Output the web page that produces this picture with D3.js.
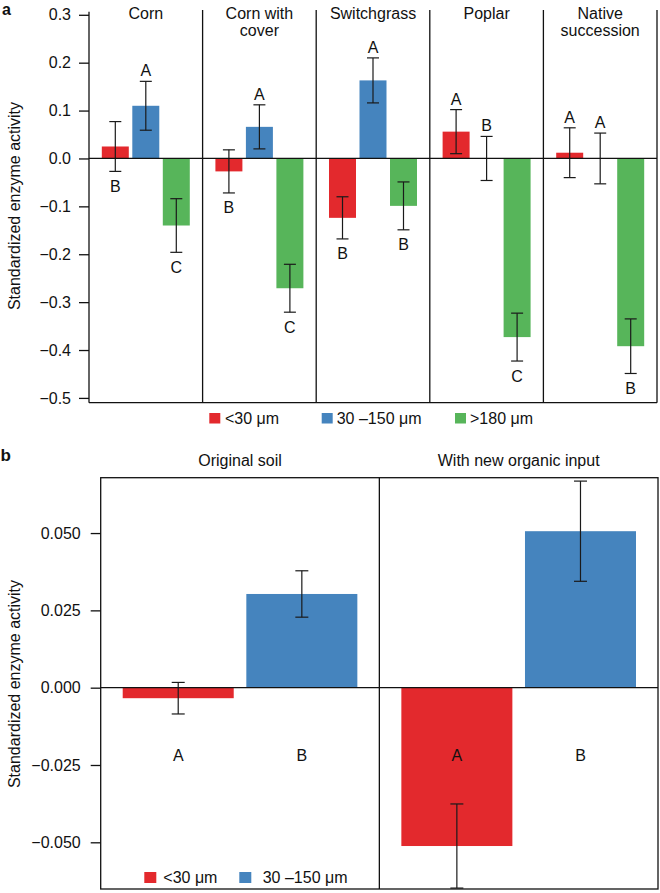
<!DOCTYPE html>
<html>
<head>
<meta charset="utf-8">
<script src="https://cdn.jsdelivr.net/npm/d3@7"></script>
<style>
  html, body { margin: 0; padding: 0; background: #fff; }
  svg { display: block; font-family: "Liberation Sans", Arial, Helvetica, sans-serif; }
</style>
</head>
<body>
<svg id="chart" width="660" height="893"></svg>
<script>
// ---------- DATA: panel a ----------
const treatments = ["Corn", "Corn with cover", "Switchgrass", "Poplar", "Native succession"];
const treatmentLines = [["Corn"], ["Corn with", "cover"], ["Switchgrass"], ["Poplar"], ["Native", "succession"]];
const sizeClassesA = ["<30 μm", "30 –150 μm", ">180 μm"];
const meanSmall = [0.025, -0.027, -0.124, 0.056, 0.012];
const meanMid   = [0.110, 0.066, 0.163, 0.000, 0.000];
const meanLarge = [-0.140, -0.271, -0.099, -0.373, -0.392];
const seSmall = [0.052, 0.045, 0.044, 0.046, 0.052];
const seMid   = [0.051, 0.046, 0.047, 0.046, 0.053];
const seLarge = [0.056, 0.050, 0.050, 0.050, 0.057];
const lettersSmall = ["B", "B", "B", "A", "A"];
const lettersMid   = ["A", "A", "A", "B", "A"];
const lettersLarge = ["C", "C", "B", "C", "B"];
const letterSideSmall = ["below", "below", "below", "above", "above"];
const letterSideMid   = ["above", "above", "above", "above", "above"];
const letterSideLarge = ["below", "below", "below", "below", "below"];
const yTicksA = [0.3, 0.2, 0.1, 0.0, -0.1, -0.2, -0.3, -0.4, -0.5];

// ---------- DATA: panel b ----------
const conditions = ["Original soil", "With new organic input"];
const sizeClassesB = ["<30 μm", "30 –150 μm"];
const meanSmallB = [-0.0034, -0.0512];
const meanMidB   = [0.0303, 0.0506];
const seSmallB = [0.0051, 0.0136];
const seMidB   = [0.0075, 0.0162];
const lettersSmallB = ["A", "A"];
const lettersMidB   = ["B", "B"];
const yTicksB = [0.050, 0.025, 0.000, -0.025, -0.050];

const colors = ["#e3292d", "#4584be", "#57b55a"];
const FS = 16;

const svg = d3.select("#chart");

// ================= PANEL A =================
const aTop = 10, aBottom = 402.7, aLeft = 89, aRight = 657;
const xA = d3.scaleBand().domain(treatments).range([aLeft, aRight]).padding(0);
const xAin = d3.scaleBand().domain(sizeClassesA).range([0, xA.bandwidth()])
  .paddingInner(0.115).paddingOuter(0.42);
const yA = d3.scaleLinear().domain([-0.51, 0.31]).range([aBottom, aTop]);

const seriesA = [
  { mean: meanSmall, se: seSmall, letters: lettersSmall, side: letterSideSmall },
  { mean: meanMid, se: seMid, letters: lettersMid, side: letterSideMid },
  { mean: meanLarge, se: seLarge, letters: lettersLarge, side: letterSideLarge }
];
const recordsA = [];
treatments.forEach((t, i) => {
  seriesA.forEach((s, j) => {
    recordsA.push({ t, cls: sizeClassesA[j], j, v: s.mean[i], se: s.se[i], letter: s.letters[i], side: s.side[i] });
  });
});

const gA = svg.append("g");

// bars
gA.selectAll("rect.bar").data(recordsA).join("rect")
  .attr("class", "bar")
  .attr("x", d => xA(d.t) + xAin(d.cls))
  .attr("width", xAin.bandwidth())
  .attr("y", d => yA(Math.max(0, d.v)))
  .attr("height", d => Math.abs(yA(d.v) - yA(0)))
  .attr("fill", d => colors[d.j]);

// error bars
const errA = gA.selectAll("g.err").data(recordsA).join("g").attr("class", "err")
  .attr("stroke", "#1a1a1a").attr("stroke-width", 1.2);
errA.append("line")
  .attr("x1", d => xA(d.t) + xAin(d.cls) + xAin.bandwidth() / 2)
  .attr("x2", d => xA(d.t) + xAin(d.cls) + xAin.bandwidth() / 2)
  .attr("y1", d => yA(d.v + d.se)).attr("y2", d => yA(d.v - d.se));
[1, -1].forEach(sgn => {
  errA.append("line")
    .attr("x1", d => xA(d.t) + xAin(d.cls) + xAin.bandwidth() / 2 - 6)
    .attr("x2", d => xA(d.t) + xAin(d.cls) + xAin.bandwidth() / 2 + 6)
    .attr("y1", d => yA(d.v + sgn * d.se)).attr("y2", d => yA(d.v + sgn * d.se));
});

// letters
gA.selectAll("text.letter").data(recordsA).join("text")
  .attr("class", "letter")
  .attr("x", d => xA(d.t) + xAin(d.cls) + xAin.bandwidth() / 2)
  .attr("y", d => d.side === "above" ? yA(d.v + d.se) - 5 : yA(d.v - d.se) + 20.5)
  .attr("text-anchor", "middle").attr("font-size", FS).attr("fill", "#111")
  .text(d => d.letter);

// zero line, frame lines
gA.append("line").attr("x1", aLeft).attr("x2", aRight).attr("y1", yA(0)).attr("y2", yA(0))
  .attr("stroke", "#111").attr("stroke-width", 1.3);
gA.append("line").attr("x1", aLeft).attr("x2", aRight).attr("y1", aBottom).attr("y2", aBottom)
  .attr("stroke", "#111").attr("stroke-width", 1.3);
treatments.slice(1).concat([null]).forEach((t) => {
  const x = t === null ? aRight : xA(t);
  gA.append("line").attr("x1", x).attr("x2", x).attr("y1", aTop).attr("y2", aBottom)
    .attr("stroke", "#111").attr("stroke-width", 1.3);
});

// axis
const axA = gA.append("g").attr("transform", `translate(${aLeft},0)`)
  .call(d3.axisLeft(yA).tickValues(yTicksA).tickFormat(d3.format(".1f"))
    .tickSize(10).tickSizeOuter(0).tickPadding(8));
axA.select(".domain").attr("stroke", "#111").attr("stroke-width", 1.3).attr("d", `M0,${aBottom}V${aTop + 1.7}`);
axA.selectAll(".tick line").attr("stroke", "#111").attr("stroke-width", 1.3);
axA.selectAll(".tick text").attr("font-size", FS).attr("fill", "#111")
  .attr("font-family", "Liberation Sans, Arial, sans-serif");

// panel titles
treatments.forEach((t, i) => {
  const tx = gA.append("text").attr("x", xA(t) + xA.bandwidth() / 2).attr("y", 19)
    .attr("text-anchor", "middle").attr("font-size", FS).attr("fill", "#111");
  treatmentLines[i].forEach((ln, k) => {
    tx.append("tspan").attr("x", xA(t) + xA.bandwidth() / 2).attr("dy", k === 0 ? 0 : 17).text(ln);
  });
});

// y label
gA.append("text").attr("transform", "translate(19.5,206) rotate(-90)")
  .attr("text-anchor", "middle").attr("font-size", FS).attr("fill", "#111")
  .text("Standardized enzyme activity");

// panel letter
svg.append("text").attr("x", 2).attr("y", 14.5).attr("font-size", 16).attr("font-weight", "bold")
  .attr("fill", "#111").text("a");

// legend a
const legAsq = [209.3, 321.7, 455];
const legAtx = [225, 336.7, 470];
sizeClassesA.forEach((c, j) => {
  svg.append("rect").attr("x", legAsq[j]).attr("y", 413).attr("width", 11).attr("height", 10.5)
    .attr("fill", colors[j]);
  svg.append("text").attr("x", legAtx[j]).attr("y", 424).attr("font-size", FS).attr("fill", "#111").text(c);
});

// ================= PANEL B =================
const bTop = 477.7, bBottom = 889, bLeft = 100.7, bRight = 658;
const xB = d3.scaleBand().domain(conditions).range([bLeft, bRight]).padding(0);
const xBin = d3.scaleBand().domain(sizeClassesB).range([0, xB.bandwidth()])
  .paddingInner(0.102).paddingOuter(0.178);
const yB = d3.scaleLinear().domain([-0.0651, 0.0679]).range([bBottom, bTop]);

const seriesB = [
  { mean: meanSmallB, se: seSmallB, letters: lettersSmallB },
  { mean: meanMidB, se: seMidB, letters: lettersMidB }
];
const recordsB = [];
conditions.forEach((t, i) => {
  seriesB.forEach((s, j) => {
    recordsB.push({ t, cls: sizeClassesB[j], j, v: s.mean[i], se: s.se[i], letter: s.letters[i] });
  });
});

const gB = svg.append("g");
gB.selectAll("rect.bar").data(recordsB).join("rect")
  .attr("class", "bar")
  .attr("x", d => xB(d.t) + xBin(d.cls))
  .attr("width", xBin.bandwidth())
  .attr("y", d => yB(Math.max(0, d.v)))
  .attr("height", d => Math.abs(yB(d.v) - yB(0)))
  .attr("fill", d => colors[d.j]);

const errB = gB.selectAll("g.err").data(recordsB).join("g").attr("class", "err")
  .attr("stroke", "#1a1a1a").attr("stroke-width", 1.2);
errB.append("line")
  .attr("x1", d => xB(d.t) + xBin(d.cls) + xBin.bandwidth() / 2)
  .attr("x2", d => xB(d.t) + xBin(d.cls) + xBin.bandwidth() / 2)
  .attr("y1", d => yB(d.v + d.se)).attr("y2", d => yB(d.v - d.se));
[1, -1].forEach(sgn => {
  errB.append("line")
    .attr("x1", d => xB(d.t) + xBin(d.cls) + xBin.bandwidth() / 2 - 6.5)
    .attr("x2", d => xB(d.t) + xBin(d.cls) + xBin.bandwidth() / 2 + 6.5)
    .attr("y1", d => yB(d.v + sgn * d.se)).attr("y2", d => yB(d.v + sgn * d.se));
});

gB.selectAll("text.letter").data(recordsB).join("text")
  .attr("class", "letter")
  .attr("x", d => xB(d.t) + xBin(d.cls) + xBin.bandwidth() / 2)
  .attr("y", yB(0) + 73)
  .attr("text-anchor", "middle").attr("font-size", FS).attr("fill", "#111")
  .text(d => d.letter);

// frame
gB.append("rect").attr("x", bLeft).attr("y", bTop).attr("width", bRight - bLeft).attr("height", bBottom - bTop)
  .attr("fill", "none").attr("stroke", "#111").attr("stroke-width", 1.3);
gB.append("line").attr("x1", xB(conditions[1])).attr("x2", xB(conditions[1]))
  .attr("y1", bTop).attr("y2", bBottom).attr("stroke", "#111").attr("stroke-width", 1.3);
gB.append("line").attr("x1", bLeft).attr("x2", bRight).attr("y1", yB(0)).attr("y2", yB(0))
  .attr("stroke", "#111").attr("stroke-width", 1.3);

const axB = gB.append("g").attr("transform", `translate(${bLeft},0)`)
  .call(d3.axisLeft(yB).tickValues(yTicksB).tickFormat(d3.format(".3f"))
    .tickSize(10).tickSizeOuter(0).tickPadding(10));
axB.select(".domain").remove();
axB.selectAll(".tick line").attr("stroke", "#111").attr("stroke-width", 1.3);
axB.selectAll(".tick text").attr("font-size", FS).attr("fill", "#111")
  .attr("font-family", "Liberation Sans, Arial, sans-serif");

conditions.forEach(c => {
  gB.append("text").attr("x", xB(c) + xB.bandwidth() / 2).attr("y", 466.4)
    .attr("text-anchor", "middle").attr("font-size", FS).attr("fill", "#111").text(c);
});

gB.append("text").attr("transform", "translate(19.5,684) rotate(-90)")
  .attr("text-anchor", "middle").attr("font-size", FS).attr("fill", "#111")
  .text("Standardized enzyme activity");

svg.append("text").attr("x", 0.5).attr("y", 461).attr("font-size", 17).attr("font-weight", "bold")
  .attr("fill", "#111").text("b");

const legBsq = [144.3, 239.3];
const legBtx = [163.3, 262.7];
sizeClassesB.forEach((c, j) => {
  svg.append("rect").attr("x", legBsq[j]).attr("y", 872).attr("width", 12).attr("height", 11)
    .attr("fill", colors[j]);
  svg.append("text").attr("x", legBtx[j]).attr("y", 883).attr("font-size", FS).attr("fill", "#111").text(c);
});
</script>
</body>
</html>
